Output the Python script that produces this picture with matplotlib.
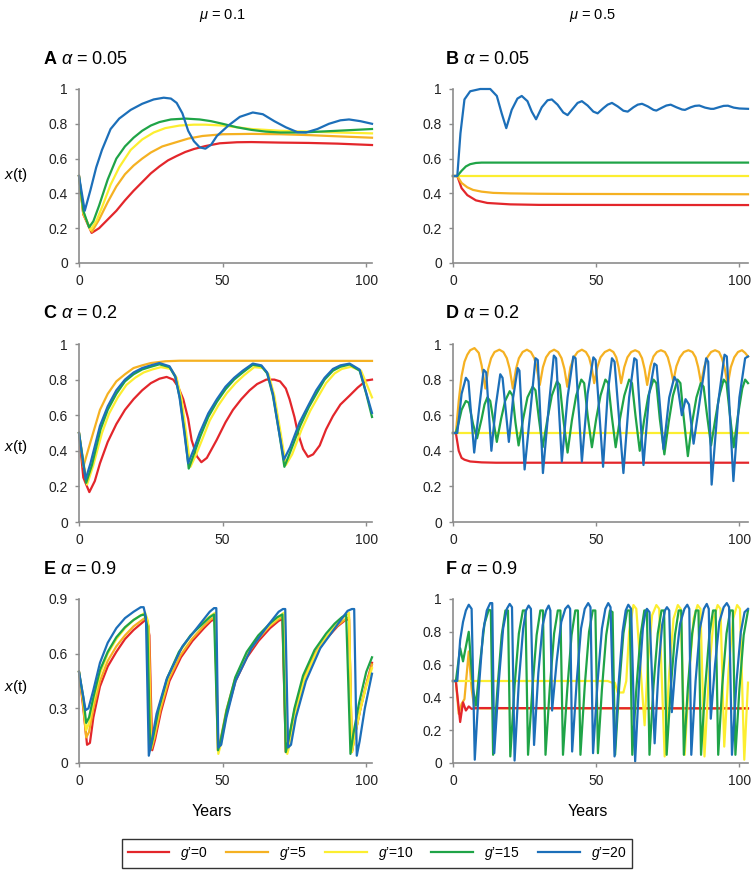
from matplotlib import pyplot as plt

plt.rcParams['font.family'] = ['Liberation Sans', 'DejaVu Sans']
plt.rcParams['mathtext.fontset'] = 'custom'
plt.rcParams['mathtext.rm'] = 'Liberation Sans'
plt.rcParams['mathtext.it'] = 'Liberation Sans:italic'
plt.rcParams['mathtext.bf'] = 'Liberation Sans:bold'

# ---------------- data ----------------
series_names = ['red', 'orange', 'yellow', 'green', 'blue']
legend_labels = ['$g$\u2019=0', '$g$\u2019=5', '$g$\u2019=10', '$g$\u2019=15', '$g$\u2019=20']
colors = {'red': '#e3262b', 'orange': '#f5b122', 'yellow': '#fcee30',
          'green': '#1fa447', 'blue': '#1c6fb9'}

# panel A  (mu=0.1, alpha=0.05)
a_red_t = [0, 1.5, 4.4, 7, 10, 13, 16, 19, 22, 25, 28, 31, 34, 37, 40, 44, 49, 55, 60, 70, 80, 90, 102]
a_red = [0.5, 0.28, 0.173, 0.20, 0.25, 0.30, 0.36, 0.415, 0.465, 0.515, 0.555, 0.59, 0.615, 0.638, 0.655, 0.672, 0.688, 0.694, 0.695, 0.692, 0.69, 0.686, 0.678]
a_orange_t = [0, 1.5, 4.5, 7, 10, 13, 16, 19, 22, 25, 29, 33, 38, 43, 50, 60, 70, 80, 90, 102]
a_orange = [0.5, 0.28, 0.18, 0.25, 0.35, 0.44, 0.51, 0.56, 0.60, 0.635, 0.67, 0.69, 0.715, 0.73, 0.74, 0.742, 0.74, 0.735, 0.728, 0.72]
a_yellow_t = [0, 1.5, 4, 6, 8, 11, 14, 18, 22, 26, 30, 35, 40, 44, 50, 55, 60, 70, 80, 90, 102]
a_yellow = [0.5, 0.29, 0.19, 0.24, 0.32, 0.45, 0.55, 0.65, 0.71, 0.75, 0.775, 0.79, 0.795, 0.795, 0.79, 0.78, 0.77, 0.76, 0.755, 0.75, 0.745]
a_green_t = [0, 1.5, 3.5, 5, 7, 10, 13, 16, 19, 22, 25, 28, 32, 37, 42, 46, 50, 55, 60, 65, 70, 75, 80, 90, 102]
a_green = [0.5, 0.30, 0.205, 0.24, 0.33, 0.48, 0.60, 0.67, 0.72, 0.76, 0.79, 0.81, 0.825, 0.83, 0.825, 0.815, 0.80, 0.78, 0.765, 0.755, 0.75, 0.75, 0.752, 0.76, 0.77]
a_blue_t = [0, 1, 2, 3, 4, 6, 8, 11, 14, 18, 22, 26, 29.5, 32, 34, 36, 38, 40, 42, 44,
            46, 48, 52, 56, 60.5, 64, 68, 72, 76, 79, 83, 87, 91, 94, 98, 102]
a_blue = [0.5, 0.40, 0.30, 0.36, 0.42, 0.55, 0.65, 0.77, 0.83, 0.88, 0.915, 0.94, 0.95, 0.945, 0.92, 0.86, 0.76, 0.70, 0.665, 0.657,
          0.68, 0.73, 0.79, 0.84, 0.865, 0.855, 0.815, 0.78, 0.752, 0.75, 0.77, 0.80, 0.82, 0.825, 0.815, 0.80]

# panel B  (mu=0.5, alpha=0.05)
b_red_t = [0, 1.5, 3, 5, 8, 12, 20, 30, 103]
b_red = [0.5, 0.5, 0.43, 0.39, 0.36, 0.345, 0.337, 0.334, 0.333]
b_orange_t = [0, 1.5, 3, 5, 7, 10, 14, 20, 30, 40, 103]
b_orange = [0.5, 0.5, 0.46, 0.435, 0.42, 0.41, 0.403, 0.40, 0.398, 0.397, 0.395]
b_yellow_t = [0, 103]
b_yellow = [0.5, 0.5]
b_green_t = [0, 1.5, 3, 4.5, 6, 8, 10, 103]
b_green = [0.5, 0.5, 0.53, 0.555, 0.568, 0.575, 0.577, 0.577]
b_blue_t = [0, 1.5, 2.6, 4, 6, 9.5, 13, 15.3, 17, 18.6,
            20.5, 22.5, 24, 26, 27.5, 29, 31, 33, 34.5, 36.5,
            38.5, 40, 42, 43.5, 45, 47, 49, 50.5, 52.5, 54,
            55.5, 57.5, 59.5, 61, 63, 64.5, 66, 68, 70, 71,
            73, 74.5, 76, 78, 80, 81, 83, 84.5, 86, 88,
            90, 91, 93, 94.5, 96, 98, 100, 103]
b_blue = [0.5, 0.5, 0.745, 0.94, 0.987, 1.0, 1.0, 0.96, 0.86, 0.775,
          0.88, 0.945, 0.96, 0.93, 0.87, 0.826, 0.895, 0.935, 0.94, 0.91,
          0.865, 0.85, 0.89, 0.92, 0.93, 0.905, 0.87, 0.86, 0.89, 0.91,
          0.92, 0.90, 0.875, 0.87, 0.895, 0.91, 0.915, 0.90, 0.88, 0.876,
          0.893, 0.905, 0.91, 0.895, 0.882, 0.88, 0.895, 0.903, 0.905, 0.893,
          0.886, 0.886, 0.896, 0.903, 0.904, 0.893, 0.888, 0.886]

# panel C  (mu=0.1, alpha=0.2)
c_red_t = [0, 1.5, 3.6, 5.5, 7.3, 10, 13, 16, 19, 22, 25, 28, 30.5, 32.8, 34.5,
           36.3, 38, 39.2, 41, 42.6, 44.5, 47.9, 51, 53.6, 56.5, 59.4, 62, 65.2, 68, 70,
           72, 73.3, 75, 76.2, 78, 79.7, 81.5, 83.8, 86, 88.4, 91, 94.2, 97, 100, 102]
c_red = [0.5, 0.25, 0.168, 0.23, 0.33, 0.45, 0.55, 0.63, 0.69, 0.74, 0.78, 0.805, 0.815, 0.80, 0.76,
         0.69, 0.58, 0.46, 0.37, 0.336, 0.36, 0.46, 0.56, 0.63, 0.69, 0.74, 0.775, 0.80, 0.80, 0.79,
         0.75, 0.69, 0.59, 0.50, 0.41, 0.366, 0.38, 0.43, 0.52, 0.595, 0.66, 0.71, 0.755, 0.795, 0.80]
c_orange_t = [0, 1.5, 4, 7.3, 10, 13, 16, 19, 22, 25, 30, 35, 102]
c_orange = [0.5, 0.31, 0.45, 0.63, 0.72, 0.79, 0.83, 0.865, 0.88, 0.893, 0.903, 0.906, 0.905]
c_yellow_t = [0, 2.8, 5, 8, 10.5, 13.5, 16.5, 19.5, 22.5, 25.5, 28.5, 32, 34, 35.7, 37.3, 38.8, 40.8, 42.8, 45.5, 48.5,
              51.5, 54.5, 57.5, 61, 64, 66, 68, 70.2, 72, 74.2, 77.5, 80.5, 83.3, 86, 89, 91.5, 94.7, 98.2, 100.5, 102]
c_yellow = [0.5, 0.21, 0.32, 0.50, 0.61, 0.70, 0.77, 0.81, 0.84, 0.857, 0.87, 0.86, 0.81, 0.69, 0.50, 0.31, 0.38, 0.46, 0.57, 0.655,
            0.725, 0.78, 0.825, 0.87, 0.865, 0.83, 0.71, 0.50, 0.32, 0.38, 0.52, 0.625, 0.705, 0.78, 0.835, 0.86, 0.872, 0.85, 0.76, 0.70]
c_green_t = [0, 2.5, 4.5, 7.5, 10, 13, 16, 19, 22, 25, 28, 31.5, 33.5, 35.2, 36.8, 38.2, 40.2, 42.2, 45, 48,
             51, 54, 57, 60.5, 63.5, 65.5, 67.5, 69.7, 71.5, 73.7, 77, 80, 82.8, 85.5, 88.4, 91, 94.2, 97.7, 100, 102]
c_green = [0.5, 0.22, 0.32, 0.52, 0.63, 0.72, 0.79, 0.83, 0.857, 0.872, 0.886, 0.87, 0.815, 0.69, 0.50, 0.30, 0.39, 0.48, 0.59, 0.675,
           0.745, 0.80, 0.84, 0.883, 0.875, 0.835, 0.71, 0.50, 0.31, 0.40, 0.54, 0.645, 0.725, 0.80, 0.85, 0.872, 0.885, 0.85, 0.72, 0.59]
c_blue_t = [0, 2.3, 4, 7.3, 10, 13, 16, 19, 22, 25, 28, 31.5, 33.5, 35, 36.5, 38, 40, 42, 45, 48,
            51, 54, 57, 60.5, 63.5, 65.5, 67.5, 69.5, 71.3, 73.5, 76.8, 80, 82.6, 85.5, 88.4, 91, 94.2, 97.7, 100, 102]
c_blue = [0.5, 0.24, 0.33, 0.54, 0.65, 0.74, 0.80, 0.84, 0.865, 0.88, 0.893, 0.875, 0.82, 0.70, 0.52, 0.33, 0.41, 0.50, 0.61, 0.69,
          0.76, 0.81, 0.85, 0.89, 0.88, 0.84, 0.72, 0.52, 0.35, 0.42, 0.56, 0.66, 0.74, 0.81, 0.86, 0.88, 0.89, 0.856, 0.725, 0.613]

# panel D  (mu=0.5, alpha=0.2)
d_red_t = [0, 1, 2, 3, 4, 6, 10, 15, 103]
d_red = [0.5, 0.5, 0.40, 0.36, 0.35, 0.34, 0.335, 0.333, 0.333]
d_orange_t = [0, 1, 2, 3, 4, 5, 6, 7.5, 9, 10, 11.3,
              12.3, 13.3, 14.5, 16.2, 17.6, 18.8, 19.8, 20.9,
              22, 23, 24.3, 25.8, 27.2, 28.4, 29.3, 30.3,
              31.4, 32.5, 33.8, 35.3, 36.7, 37.9, 38.9, 39.9,
              41, 42.2, 43.5, 45, 46.4, 47.5, 48.4, 49.3,
              50.4, 51.5, 53, 54.7, 56, 57, 57.8, 58.7,
              59.8, 60.9, 62.2, 63.6, 64.9, 66, 66.9, 67.8,
              68.9, 70, 71.2, 72.6, 74, 75, 75.9, 76.9,
              78, 79.2, 80.6, 82.2, 83.6, 84.7, 85.6, 86.6,
              87.7, 88.8, 90.1, 91.5, 92.9, 93.9, 94.9, 95.9,
              97, 98.2, 99.5, 100.9, 102, 103]
d_orange = [0.5, 0.5, 0.68, 0.82, 0.90, 0.94, 0.965, 0.977, 0.95, 0.88, 0.75,
            0.86, 0.92, 0.955, 0.968, 0.955, 0.92, 0.86, 0.75,
            0.86, 0.92, 0.955, 0.968, 0.955, 0.92, 0.86, 0.77,
            0.87, 0.925, 0.955, 0.968, 0.955, 0.92, 0.86, 0.76,
            0.87, 0.925, 0.955, 0.968, 0.955, 0.925, 0.87, 0.78,
            0.87, 0.925, 0.955, 0.968, 0.955, 0.925, 0.87, 0.78,
            0.87, 0.925, 0.955, 0.965, 0.955, 0.92, 0.86, 0.77,
            0.875, 0.93, 0.955, 0.965, 0.955, 0.925, 0.87, 0.79,
            0.875, 0.925, 0.955, 0.965, 0.955, 0.925, 0.87, 0.78,
            0.87, 0.925, 0.955, 0.965, 0.955, 0.92, 0.86, 0.77,
            0.87, 0.925, 0.955, 0.965, 0.95, 0.93]
d_yellow_t = [0, 103]
d_yellow = [0.5, 0.5]
d_green_t = [0, 1, 2, 3, 4.5, 5.5, 7, 8.4,
             10, 11, 12, 13, 14.2, 15.3,
             16.8, 18.2, 19.8, 20.8, 21.8, 22.9,
             24.5, 26, 27.8, 28.8, 30, 31.3,
             33, 34.5, 36.3, 37.3, 38.5, 40,
             41.5, 43, 44.8, 45.8, 47, 48.5,
             50, 51.5, 53.2, 54.2, 55.4, 56.8,
             58.3, 59.8, 61.5, 62.5, 63.7, 65.2,
             66.7, 68.2, 70, 71, 72.2, 73.8,
             75.3, 76.8, 78.4, 79.4, 80.6, 82,
             83.5, 85, 86.5, 87.5, 88.7, 90.1,
             91.6, 93, 94.5, 95.5, 96.7, 98,
             99.5, 101, 102, 103]
d_green = [0.5, 0.5, 0.56, 0.63, 0.68, 0.67, 0.55, 0.47,
           0.58, 0.66, 0.70, 0.68, 0.56, 0.45,
           0.58, 0.68, 0.735, 0.71, 0.56, 0.43,
           0.58, 0.70, 0.76, 0.74, 0.58, 0.42,
           0.58, 0.71, 0.79, 0.77, 0.58, 0.39,
           0.57, 0.71, 0.80, 0.78, 0.60, 0.42,
           0.58, 0.71, 0.80, 0.78, 0.60, 0.42,
           0.58, 0.71, 0.80, 0.78, 0.60, 0.40,
           0.57, 0.71, 0.80, 0.78, 0.58, 0.38,
           0.56, 0.71, 0.80, 0.78, 0.58, 0.37,
           0.56, 0.70, 0.78, 0.76, 0.60, 0.43,
           0.58, 0.71, 0.80, 0.78, 0.60, 0.42,
           0.60, 0.75, 0.80, 0.78]
d_blue_t = [0, 1.5, 3, 4.5, 5.4, 7.4,
            9, 10.7, 11.6, 13.4,
            15, 16.5, 17.3, 19.5,
            21, 22.6, 23.2, 25,
            27, 28.8, 29.6, 31.4,
            33.5, 35.2, 36, 38,
            40, 42, 42.8, 45,
            47, 49, 49.8, 52.4,
            54, 55.5, 56.4, 59.5,
            61.5, 63.3, 64.1, 66.5,
            68.5, 70.3, 71.1, 73.5,
            75.5, 77.3, 78.2, 79.9,
            81.2, 82.4, 84,
            86.5, 88.4, 89.1, 90.3,
            92.5, 94.8, 95.6, 97.9,
            100, 102, 103]
d_blue = [0.5, 0.5, 0.72, 0.81, 0.79, 0.39,
          0.62, 0.855, 0.84, 0.40,
          0.66, 0.83, 0.81, 0.45,
          0.70, 0.865, 0.85, 0.295,
          0.62, 0.92, 0.91, 0.275,
          0.66, 0.935, 0.92, 0.34,
          0.70, 0.93, 0.92, 0.34,
          0.72, 0.925, 0.91, 0.31,
          0.72, 0.92, 0.90, 0.275,
          0.70, 0.92, 0.91, 0.32,
          0.72, 0.89, 0.88, 0.41,
          0.70, 0.815, 0.79, 0.60,
          0.69, 0.66, 0.44,
          0.72, 0.92, 0.90, 0.21,
          0.66, 0.94, 0.93, 0.23,
          0.70, 0.92, 0.93]

# panel E  (mu=0.1, alpha=0.9)
e_red_t = [0, 1.5, 2.8, 3.8, 5, 7.3, 10, 13, 16, 19, 22, 23.5, 24.5, 25.5, 26.5,
           28.5, 31.5, 35.5, 39.5, 43.5, 46, 47.3, 48.5, 49.5, 51.5, 54.5, 58.5, 62.5, 66.5, 69.5,
           70.8, 72, 73, 75, 78, 82, 86, 90, 92.8, 94, 95, 96, 98, 100, 102]
e_red = [0.5, 0.30, 0.10, 0.11, 0.25, 0.42, 0.53, 0.61, 0.68, 0.73, 0.77, 0.79, 0.70, 0.07, 0.13,
         0.28, 0.45, 0.58, 0.67, 0.74, 0.78, 0.79, 0.08, 0.13, 0.28, 0.45, 0.58, 0.67, 0.74, 0.78,
         0.79, 0.06, 0.12, 0.28, 0.45, 0.59, 0.68, 0.75, 0.785, 0.79, 0.06, 0.15, 0.30, 0.43, 0.55]
e_orange_t = [0, 1.5, 2.5, 3.5, 5, 7.3, 10, 13, 16, 19, 22, 23.3, 24.3, 25.3, 26.3,
              28.3, 31.3, 35.3, 39.3, 43.3, 46, 47.3, 48.3, 49.3, 51.3, 54.3, 58.3, 62.3, 66.3, 69.5,
              71, 72, 73, 75, 78, 82, 86, 90, 92.8, 94, 95, 96, 98, 100, 102]
e_orange = [0.5, 0.32, 0.14, 0.17, 0.30, 0.45, 0.56, 0.64, 0.70, 0.75, 0.785, 0.80, 0.75, 0.08, 0.14,
            0.29, 0.46, 0.59, 0.68, 0.75, 0.79, 0.80, 0.07, 0.13, 0.29, 0.46, 0.59, 0.68, 0.75, 0.79,
            0.80, 0.06, 0.12, 0.29, 0.46, 0.60, 0.69, 0.755, 0.79, 0.80, 0.06, 0.15, 0.30, 0.43, 0.54]
e_yellow_t = [0, 1.5, 2.5, 3.5, 5, 7.3, 10, 13, 16, 19, 22, 23, 24, 25, 26,
              28, 31, 35, 39, 43, 46, 47.5, 48.5, 49.5, 51.5, 54.5, 58.5, 62.5, 66.5, 69.5,
              71.3, 72.5, 73.5, 75.5, 78.5, 82.5, 86.5, 90, 92.8, 94, 95, 96, 98, 100, 102]
e_yellow = [0.5, 0.34, 0.18, 0.22, 0.34, 0.49, 0.60, 0.68, 0.74, 0.785, 0.815, 0.825, 0.78, 0.08, 0.14,
            0.30, 0.47, 0.61, 0.70, 0.77, 0.81, 0.825, 0.05, 0.11, 0.28, 0.46, 0.60, 0.69, 0.76, 0.80,
            0.825, 0.05, 0.11, 0.28, 0.46, 0.60, 0.70, 0.77, 0.81, 0.825, 0.06, 0.15, 0.30, 0.42, 0.52]
e_green_t = [0, 1.5, 2.5, 3.5, 5, 7.3, 10, 13, 16, 19, 21.5, 22.8, 23.8, 24.8, 25.8,
             27.8, 30.8, 34.8, 38.8, 42.8, 45.5, 47, 48.4, 49.4, 51.4, 54.4, 58.4, 62.4, 66.4, 69,
             70.8, 72, 73, 75, 78, 82, 86, 89, 91.5, 93, 94.5, 95.5, 97.5, 100, 102]
e_green = [0.5, 0.36, 0.22, 0.25, 0.36, 0.51, 0.61, 0.69, 0.745, 0.785, 0.81, 0.815, 0.75, 0.07, 0.14,
           0.30, 0.47, 0.61, 0.70, 0.76, 0.80, 0.815, 0.07, 0.13, 0.29, 0.47, 0.61, 0.70, 0.765, 0.80,
           0.815, 0.06, 0.13, 0.30, 0.48, 0.62, 0.71, 0.765, 0.80, 0.815, 0.05, 0.16, 0.33, 0.50, 0.58]
e_blue_t = [0, 1.3, 2.3, 3.3, 5, 7.3, 10, 13, 16, 19, 21.5, 22.5, 23.3, 24.3, 25.3,
            27, 30.5, 36, 42, 45.5, 47, 47.8, 48.5, 49.5, 51.3, 54.5, 60, 66, 69.5, 71,
            71.8, 72.8, 73.8, 75.5, 79, 84, 90, 93.5, 95, 95.8, 96.7, 97.7, 99.5, 102]
e_blue = [0.5, 0.38, 0.29, 0.30, 0.40, 0.55, 0.66, 0.74, 0.795, 0.83, 0.855, 0.855, 0.80, 0.04, 0.12,
          0.27, 0.46, 0.64, 0.76, 0.83, 0.85, 0.85, 0.085, 0.10, 0.25, 0.45, 0.63, 0.76, 0.83, 0.845,
          0.845, 0.085, 0.10, 0.25, 0.45, 0.63, 0.76, 0.835, 0.845, 0.845, 0.04, 0.12, 0.30, 0.49]

# panel F  (mu=0.5, alpha=0.9)
f_red_t = [0, 1, 2.5, 3.5, 4.5, 5.5, 6.5, 8, 103]
f_red = [0.5, 0.5, 0.25, 0.37, 0.32, 0.345, 0.33, 0.335, 0.333]
f_orange_t = [0, 1, 2, 3, 4, 5.5, 6.5, 7.5, 103]
f_orange = [0.5, 0.5, 0.30, 0.36, 0.39, 0.68, 0.45, 0.333, 0.333]
f_yellow_t = [0, 54, 55.5, 56.5, 57.5, 59.5, 60.5,
              61.5, 63, 64, 66.9,
              68, 69.5, 71, 72, 73.9,
              75.5, 77, 78.5, 79.5, 80.9,
              82.5, 84, 85.4, 86.4, 87.8,
              89.4, 91, 92.4, 93.4, 94.7,
              96.2, 97.8, 99.2, 100.2, 101.7, 103]
f_yellow = [0.5, 0.5, 0.49, 0.49, 0.43, 0.43, 0.50,
            0.80, 0.963, 0.94, 0.23,
            0.60, 0.90, 0.963, 0.94, 0.04,
            0.55, 0.88, 0.963, 0.94, 0.05,
            0.55, 0.88, 0.963, 0.94, 0.04,
            0.55, 0.88, 0.963, 0.94, 0.10,
            0.56, 0.88, 0.963, 0.94, 0.02, 0.49]
f_green_t = [0, 1, 2.5, 3.5, 5.5, 7, 8,
             9.5, 11, 12.5, 13.2, 14,
             15.5, 17, 18.3, 19.2, 20,
             21.5, 23, 24.4, 25.3, 26.2,
             27.7, 29.2, 30.5, 31.4, 32.3,
             33.8, 35.3, 36.6, 37.5, 38.4,
             39.9, 41.4, 42.7, 43.6, 44.5,
             46, 47.5, 48.8, 49.7, 50.6,
             52, 53.5, 54.8, 55.7, 56.6,
             58, 59.5, 60.8, 61.7, 62.6,
             64, 65.5, 66.8, 67.7, 68.6,
             70, 71.5, 72.8, 73.7, 74.6,
             76, 77.5, 78.8, 79.7, 80.6,
             82, 83.5, 84.8, 85.7, 86.6,
             88, 89.5, 90.8, 91.7, 92.6,
             94, 95.5, 96.8, 97.7, 98.6,
             100, 101.5, 103]
f_green = [0.5, 0.5, 0.70, 0.62, 0.80, 0.45, 0.35,
           0.62, 0.85, 0.935, 0.93, 0.05,
           0.45, 0.78, 0.93, 0.93, 0.04,
           0.47, 0.79, 0.93, 0.93, 0.05,
           0.45, 0.78, 0.93, 0.93, 0.05,
           0.46, 0.79, 0.93, 0.93, 0.05,
           0.45, 0.78, 0.93, 0.93, 0.05,
           0.47, 0.80, 0.93, 0.93, 0.06,
           0.45, 0.78, 0.93, 0.92, 0.05,
           0.46, 0.79, 0.93, 0.93, 0.05,
           0.45, 0.78, 0.93, 0.93, 0.05,
           0.47, 0.79, 0.93, 0.93, 0.05,
           0.45, 0.78, 0.93, 0.93, 0.05,
           0.46, 0.79, 0.93, 0.93, 0.05,
           0.45, 0.78, 0.93, 0.93, 0.05,
           0.47, 0.79, 0.93, 0.93, 0.05,
           0.45, 0.78, 0.93]
f_blue_t = [0, 1.5, 2.5, 3.5, 4.5, 5.5, 6.5, 7.6,
            9, 10.5, 11.8, 13, 13.7, 14.4,
            16, 17.5, 18.8, 19.8, 20.6, 21.5,
            23, 24.5, 25.5, 26.4, 27.2, 28.3,
            29.8, 31.3, 32.5, 33.4, 34.0, 34.6,
            36.2, 37.8, 39.2, 40.2, 40.9, 41.6,
            43.2, 44.7, 46, 47.2, 48, 48.9,
            50.5, 52, 53.2, 54.2, 55, 56.4,
            57.8, 59.2, 60.3, 61.2, 62.2, 63.6,
            65, 66.3, 67.2, 67.7, 68.6, 70.4,
            71.8, 73, 74, 74.7, 75.5, 76.4,
            77.8, 79.3, 80.8, 81.8, 82.5, 83.2,
            84.7, 86.2, 87.6, 88.6, 89.3, 90,
            91.5, 93, 94.5, 95.6, 96.4, 97.4,
            99, 100.5, 101.8, 103]
f_blue = [0.5, 0.5, 0.75, 0.86, 0.93, 0.965, 0.94, 0.02,
          0.45, 0.80, 0.93, 0.975, 0.975, 0.06,
          0.50, 0.82, 0.94, 0.97, 0.95, 0.015,
          0.50, 0.82, 0.93, 0.96, 0.94, 0.11,
          0.55, 0.84, 0.93, 0.96, 0.93, 0.32,
          0.62, 0.86, 0.94, 0.96, 0.94, 0.07,
          0.50, 0.82, 0.94, 0.975, 0.95, 0.06,
          0.50, 0.82, 0.94, 0.975, 0.95, 0.04,
          0.48, 0.80, 0.93, 0.965, 0.94, 0.01,
          0.50, 0.82, 0.92, 0.94, 0.92, 0.12,
          0.58, 0.84, 0.93, 0.95, 0.93, 0.31,
          0.62, 0.85, 0.94, 0.965, 0.94, 0.05,
          0.50, 0.82, 0.94, 0.97, 0.94, 0.27,
          0.60, 0.86, 0.95, 0.975, 0.95, 0.05,
          0.50, 0.80, 0.92, 0.94]

yticks_01 = [0, 0.2, 0.4, 0.6, 0.8, 1]
ylabels_01 = ['0', '0.2', '0.4', '0.6', '0.8', '1']
yticks_e = [0, 0.3, 0.6, 0.9]
ylabels_e = ['0', '0.3', '0.6', '0.9']
xticks = [0, 50, 100]
xlabels = ['0', '50', '100']

panels = {
    'A': {'red': (a_red_t, a_red), 'orange': (a_orange_t, a_orange), 'yellow': (a_yellow_t, a_yellow),
          'green': (a_green_t, a_green), 'blue': (a_blue_t, a_blue)},
    'B': {'red': (b_red_t, b_red), 'orange': (b_orange_t, b_orange), 'yellow': (b_yellow_t, b_yellow),
          'green': (b_green_t, b_green), 'blue': (b_blue_t, b_blue)},
    'C': {'red': (c_red_t, c_red), 'orange': (c_orange_t, c_orange), 'yellow': (c_yellow_t, c_yellow),
          'green': (c_green_t, c_green), 'blue': (c_blue_t, c_blue)},
    'D': {'red': (d_red_t, d_red), 'orange': (d_orange_t, d_orange), 'yellow': (d_yellow_t, d_yellow),
          'green': (d_green_t, d_green), 'blue': (d_blue_t, d_blue)},
    'E': {'red': (e_red_t, e_red), 'orange': (e_orange_t, e_orange), 'yellow': (e_yellow_t, e_yellow),
          'green': (e_green_t, e_green), 'blue': (e_blue_t, e_blue)},
    'F': {'red': (f_red_t, f_red), 'orange': (f_orange_t, f_orange), 'yellow': (f_yellow_t, f_yellow),
          'green': (f_green_t, f_green), 'blue': (f_blue_t, f_blue)},
}
titles = {'A': '0.05', 'B': '0.05', 'C': '0.2', 'D': '0.2', 'E': '0.9', 'F': '0.9'}

# ---------------- layout (pixel positions of the 755x874 picture) ----------------
W, H = 755, 874
fig = plt.figure(figsize=(7.55, 8.74), dpi=100)

col_left = {0: 79, 1: 453}
col_width = {0: 293, 1: 295}
col_xmax = {0: 102, 1: 103}
rows = [(89, 263), (344, 522), (599, 763)]   # top, bottom of each row of plots
grey = '#8c8c8c'

handles = []
for i, key in enumerate(['A', 'B', 'C', 'D', 'E', 'F']):
    r, c = i // 2, i % 2
    top, bot = rows[r]
    ax = fig.add_axes([col_left[c] / W, 1 - bot / H, col_width[c] / W, (bot - top) / H])

    order = series_names if key != 'F' else ['orange', 'red', 'yellow', 'green', 'blue']
    for name in order:
        t, x = panels[key][name]
        line, = ax.plot(t, x, color=colors[name], lw=1.6, clip_on=False, solid_joinstyle='round')
        if key == 'A':
            handles.append(line)

    ax.set_xlim(0, col_xmax[c])
    if key == 'E':
        ax.set_ylim(0, 0.9)
        ax.set_yticks(yticks_e)
        ax.set_yticklabels(ylabels_e)
    else:
        ax.set_ylim(0, 1)
        ax.set_yticks(yticks_01)
        ax.set_yticklabels(ylabels_01)
    ax.set_xticks(xticks)
    ax.set_xticklabels(xlabels)

    for s in ['top', 'right']:
        ax.spines[s].set_visible(False)
    for s in ['left', 'bottom']:
        ax.spines[s].set_color(grey)
        ax.spines[s].set_linewidth(1.2)
    ax.tick_params(direction='out', length=3, width=1.0, color=grey,
                   labelsize=10, labelcolor='#222222')
    ax.tick_params(axis='x', pad=5)
    ax.tick_params(axis='y', pad=5)

    # panel title
    tx = 43 if c == 0 else 445
    ty = top - 30
    fig.text(tx / W, 1 - ty / H, r'$\mathbf{%s}$ $\alpha$ = %s' % (key, titles[key]),
             ha='left', va='center', fontsize=13)

    if c == 0:
        ylab_y = {0: 175, 1: 447, 2: 687}[r]
        fig.text(16 / W, 1 - ylab_y / H, '$x$(t)', ha='center', va='center', fontsize=11)

# column headers
fig.text(222 / W, 1 - 15 / H, r'$\mu$ = 0.1', ha='center', va='center', fontsize=10.5)
fig.text(592 / W, 1 - 15 / H, r'$\mu$ = 0.5', ha='center', va='center', fontsize=10.5)

# x labels
fig.text(212 / W, 1 - 811 / H, 'Years', ha='center', va='center', fontsize=11.5)
fig.text(588 / W, 1 - 811 / H, 'Years', ha='center', va='center', fontsize=11.5)

leg = fig.legend(handles, legend_labels, loc='center', ncol=5, mode='expand',
                 bbox_to_anchor=(122 / W, 1 - 870 / H, 510 / W, 33 / H),
                 frameon=True, fancybox=False, edgecolor='black', fontsize=10,
                 handlelength=3.0, borderaxespad=0, columnspacing=1.0)
leg.get_frame().set_linewidth(1.0)

plt.savefig('out.png', dpi=100)
